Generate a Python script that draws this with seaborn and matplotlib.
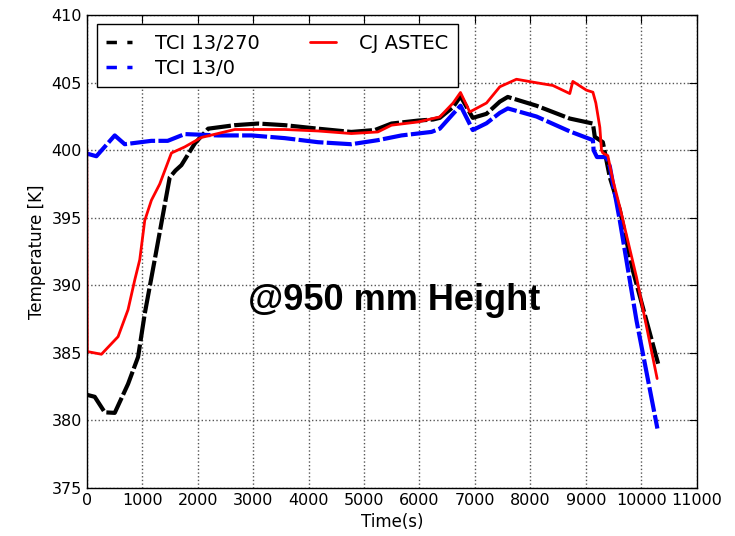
import matplotlib
matplotlib.use("Agg")
import matplotlib.pyplot as plt
from matplotlib import font_manager
import seaborn as sns
import numpy as np
import pandas as pd
import os

sns.set_style("white")
plt.rcParams['font.family'] = ['DejaVu Sans']
for k in ['text.color', 'axes.labelcolor', 'xtick.color', 'ytick.color']:
    plt.rcParams[k] = 'black'

# TCI 13/270 (black)
t_270 = [0, 144, 325, 505, 745, 926, 1046, 1226, 1377, 1497, 1600, 1707, 1948, 2189, 2670, 3090,
         3570, 4170, 4770, 5194, 5495, 5975, 6246, 6366, 6606, 6740, 6961, 7208, 7448, 7592,
         8110, 8710, 9127, 9161, 9306, 9432, 9612, 9847, 10303]
T_270 = [381.9, 381.75, 380.6, 380.56, 382.7, 384.7, 387.9, 391.9, 395.3, 398.0, 398.5, 398.9, 400.5,
         401.6, 401.86, 401.98, 401.86, 401.6, 401.36, 401.5, 401.98, 402.2, 402.28, 402.4, 403.2,
         404.0, 402.4, 402.7, 403.6, 403.95, 403.3, 402.35, 401.98, 401.0, 400.6, 398.0, 395.6,
         391.1, 384.2]

# TCI 13/0 (blue)
t_0 = [0, 174, 505, 685, 1166, 1460, 1767, 2368, 2970, 3570, 4170, 4770, 5250, 5675, 6216,
       6366, 6606, 6740, 6961, 7208, 7448, 7592, 8110, 8710, 9127, 9140, 9200, 9372, 9432,
       9612, 9913, 10290]
T_0 = [399.76, 399.56, 401.1, 400.45, 400.7, 400.7, 401.2, 401.1, 401.1, 400.9, 400.6, 400.45,
       400.75, 401.1, 401.36, 401.6, 402.7, 403.3, 401.5, 402.0, 402.77, 403.1, 402.5, 401.4,
       400.75, 400.0, 399.5, 399.5, 398.8, 394.8, 387.4, 379.4]

# CJ ASTEC (red)
t_cj = [0, 10, 265, 565, 745, 866, 956, 1046, 1166, 1316, 1527, 1767, 2068, 2670, 3570, 4170,
        4770, 5250, 5495, 5975, 6366, 6606, 6739, 6907, 7208, 7448, 7749, 8110, 8404, 8710,
        8765, 9011, 9127, 9180, 9252, 9282, 9306, 9396, 9487, 9612, 9913, 10285]
T_cj = [400.2, 385.1, 384.9, 386.2, 388.2, 390.4, 391.9, 394.8, 396.3, 397.5, 399.8, 400.25,
        400.95, 401.54, 401.54, 401.43, 401.24, 401.36, 401.86, 402.1, 402.47, 403.5, 404.28,
        402.84, 403.5, 404.7, 405.26, 405.0, 404.8, 404.2, 405.1, 404.45, 404.3, 403.5, 401.7,
        400.0, 399.8, 399.6, 397.8, 395.8, 390.6, 383.1]

fig = plt.figure(figsize=(7.35, 5.36), dpi=100)
ax = fig.add_axes([0.118, 0.0896, 0.830, 0.882])

sns.lineplot(x=t_270, y=T_270, ax=ax, color='black', linewidth=3, label='TCI 13/270',
             estimator=None, sort=False)
sns.lineplot(x=t_0, y=T_0, ax=ax, color='blue', linewidth=3, label='TCI 13/0',
             estimator=None, sort=False)
sns.lineplot(x=t_cj, y=T_cj, ax=ax, color='red', linewidth=2, label='CJ ASTEC',
             estimator=None, sort=False)
ax.lines[0].set_dashes((6, 0.8))
ax.lines[1].set_dashes((6, 0.8))

ax.set_xlim(0, 11000)
ax.set_ylim(375, 410)
ax.set_xticks(np.arange(0, 11001, 1000))
ax.set_yticks(np.arange(375, 411, 5))
ax.grid(True, color='#555555', linestyle=':', linewidth=1)
ax.tick_params(direction='in', top=True, right=True, length=6, labelsize=11.5, color='black')
for s in ax.spines.values():
    s.set_color('black')
    s.set_linewidth(1)
ax.set_xlabel('Time(s)', fontsize=12)
ax.set_ylabel('Temperature [K]', fontsize=12)

leg = ax.legend(loc='upper left', ncol=2, fontsize=14, frameon=True, fancybox=False,
                framealpha=1, handlelength=1.3, borderpad=0.5, labelspacing=0.3,
                columnspacing=2.6, handletextpad=1.2, borderaxespad=0,
                bbox_to_anchor=(10 / 610, 1 - 9 / 473))
leg.get_frame().set_edgecolor('black')
leg.get_frame().set_linewidth(1)
for h in leg.get_lines()[:2]:
    h.set_linewidth(2.5)
    h.set_dashes((3, 3))

bold_path = None
for f in font_manager.findSystemFonts():
    if os.path.basename(f) == 'LiberationSans-Bold.ttf':
        bold_path = f
        break
if bold_path:
    fp = font_manager.FontProperties(fname=bold_path, size=26)
else:
    fp = font_manager.FontProperties(family='Liberation Sans', weight='bold', size=26)

ax.text(5550, 388.9, '@950 mm Height', fontproperties=fp,
        ha='center', va='center', color='black')

fig.savefig('out.png', dpi=100)
